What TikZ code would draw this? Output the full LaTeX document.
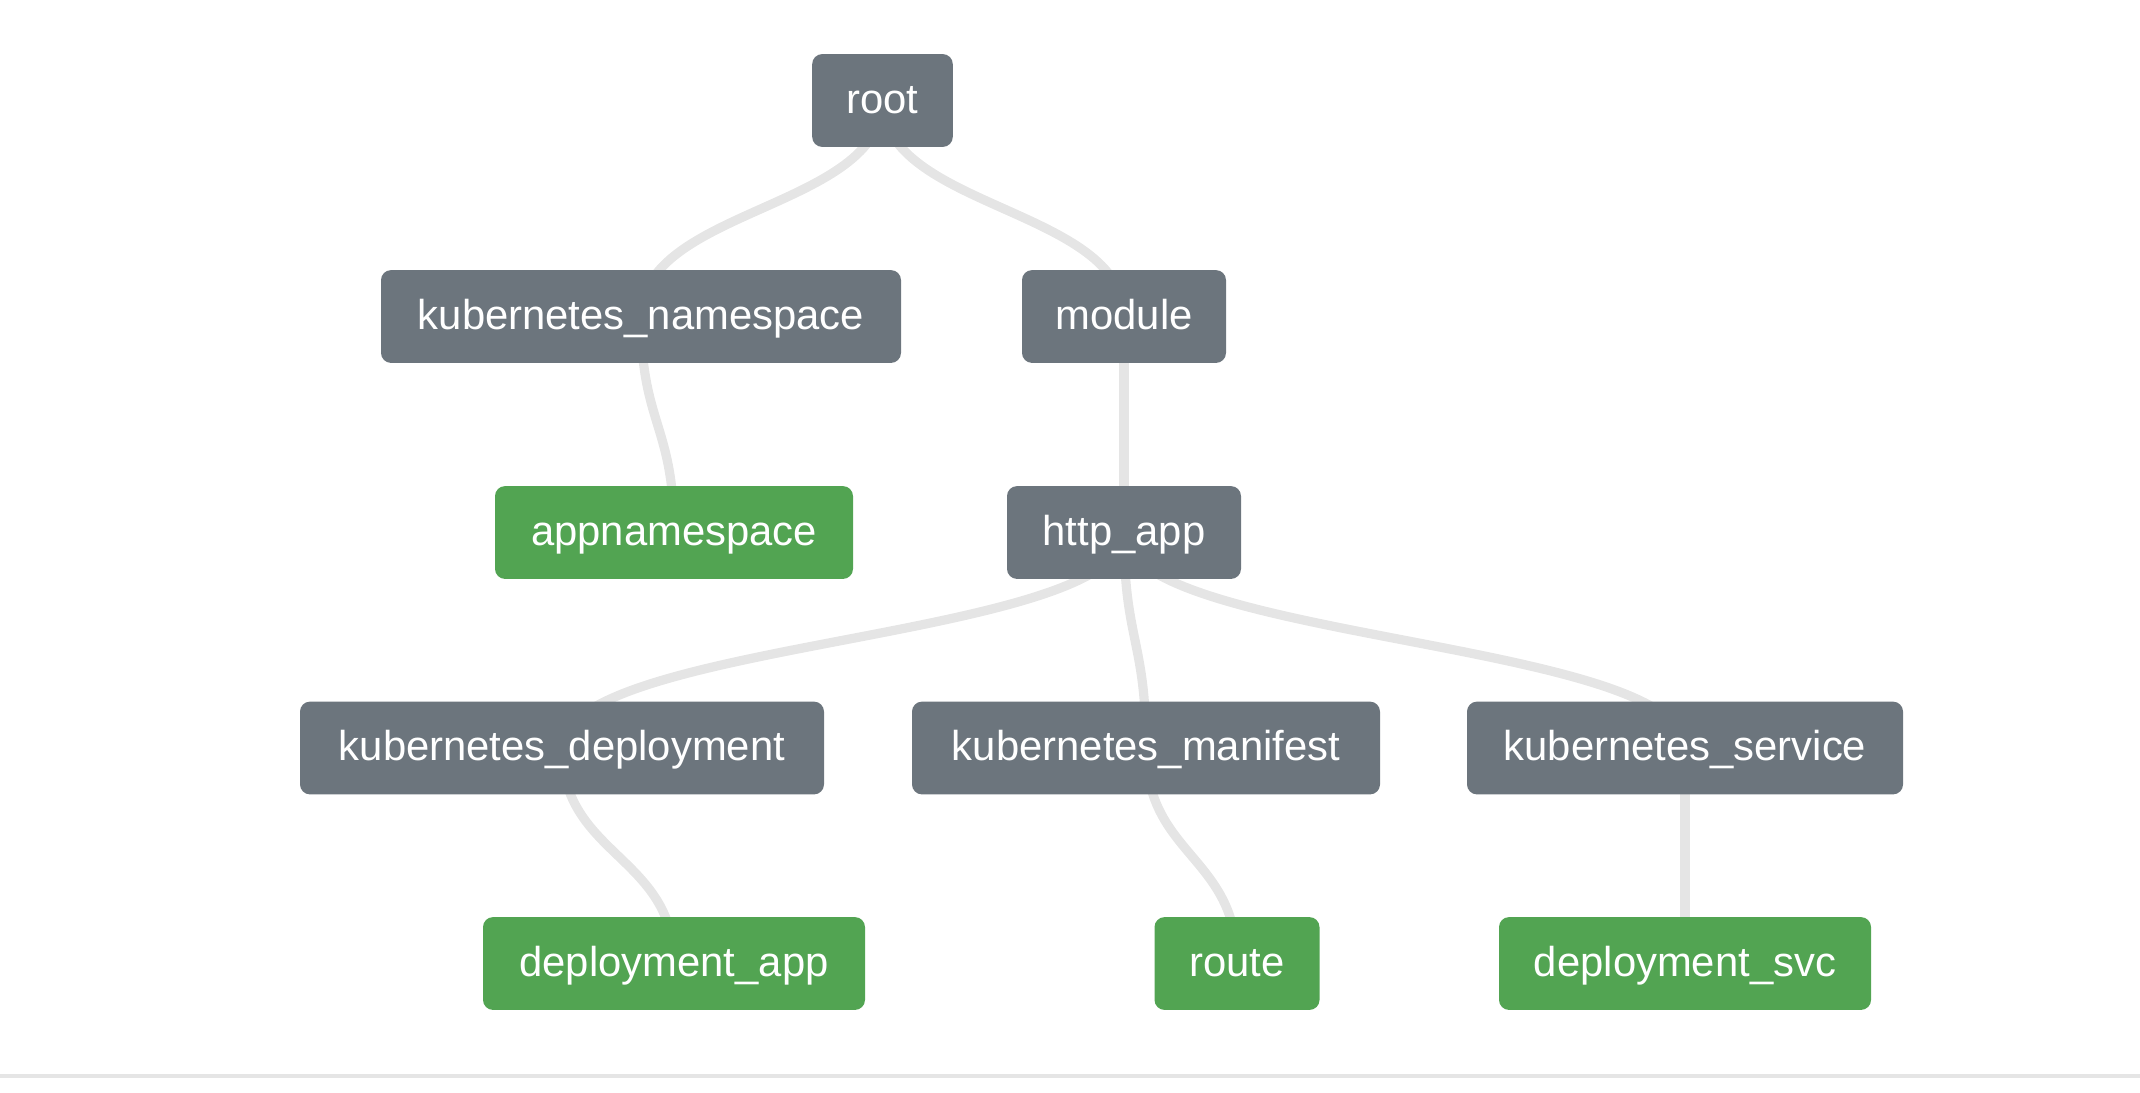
\documentclass[tikz,border=0pt]{standalone}
\usepackage{fontspec}
\setmainfont{Liberation Sans}
\usetikzlibrary{calc,backgrounds}
\definecolor{boxgray}{RGB}{108,117,125}
\definecolor{boxgreen}{RGB}{82,164,82}
\definecolor{edgegray}{RGB}{229,229,229}
\newcommand\vlink[2]{\draw[link] (#1.center) .. controls ($(#1.center)!0.5!(#1.center|-#2.center)$) and ($(#2.center)!0.5!(#2.center|-#1.center)$) .. (#2.center);}
\begin{document}
\begin{tikzpicture}[x=0.5pt,y=-0.5pt,
  box/.style={rounded corners=5pt, text=white, font=\fontsize{20.9}{25}\selectfont,
    minimum height=46.4pt, inner xsep=0pt, inner ysep=0pt, text height=17.1pt, text depth=4.2pt, anchor=center},
  gbox/.style={box, fill=boxgray},
  okbox/.style={box, fill=boxgreen},
  link/.style={draw=edgegray, line width=4.6pt}]
\useasboundingbox (0,0) rectangle (2140,1092);
\node[gbox, minimum width=70.3pt] (root) at (882.5,100.5) {root};
\node[gbox, minimum width=260pt] (kns) at (641,316.5) {kubernetes\_namespace};
\node[gbox, minimum width=102pt] (module) at (1124,316.5) {module};
\node[okbox, minimum width=179pt] (appns) at (674,532.5) {appnamespace};
\node[gbox, minimum width=117pt] (http) at (1124,532.5) {http\_app};
\node[gbox, minimum width=262pt] (kdep) at (562,748) {kubernetes\_deployment};
\node[gbox, minimum width=234pt] (kman) at (1146,748) {kubernetes\_manifest};
\node[gbox, minimum width=218pt] (ksvc) at (1685,748) {kubernetes\_service};
\node[okbox, minimum width=191pt] (depapp) at (674,963.5) {deployment\_app};
\node[okbox, minimum width=82.5pt] (route) at (1237,963.5) {route};
\node[okbox, minimum width=186pt] (depsvc) at (1685,963.5) {deployment\_svc};
\begin{scope}[on background layer]
\vlink{root}{kns}
\vlink{root}{module}
\vlink{kns}{appns}
\vlink{module}{http}
\vlink{http}{kdep}
\vlink{http}{kman}
\vlink{http}{ksvc}
\vlink{kdep}{depapp}
\vlink{kman}{route}
\vlink{ksvc}{depsvc}
\end{scope}
\draw[draw=edgegray, line width=2pt] (0,1075.7) -- (2140,1075.7);
\end{tikzpicture}
\end{document}
